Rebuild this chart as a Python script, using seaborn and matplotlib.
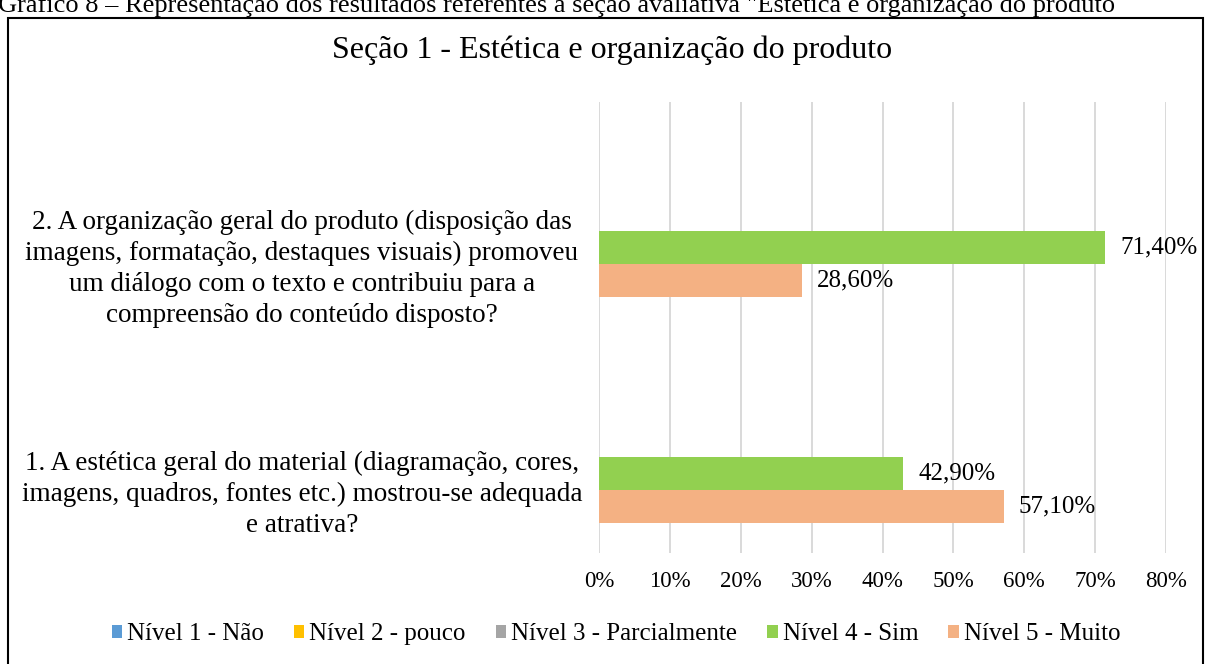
import pandas as pd
import numpy as np
import matplotlib
matplotlib.use('Agg')
import matplotlib.pyplot as plt
from matplotlib.patches import Rectangle
import seaborn as sns

# Data
perguntas = [
    '2. A organização geral do produto (disposição das\n'
    'imagens, formatação, destaques visuais) promoveu\n'
    'um diálogo com o texto e contribuiu para a\n'
    'compreensão do conteúdo disposto?',
    '1. A estética geral do material (diagramação, cores,\n'
    'imagens, quadros, fontes etc.) mostrou-se adequada\n'
    'e atrativa?',
]
niveis = ['Nível 1 - Não', 'Nível 2 - pouco', 'Nível 3 - Parcialmente',
          'Nível 4 - Sim', 'Nível 5 - Muito']
valores_q2 = [0, 0, 0, 71.4, 28.6]
valores_q1 = [0, 0, 0, 42.9, 57.1]
cores = ['#5B9BD5', '#FFC000', '#A5A5A5', '#92D050', '#F4B183']
x_ticks = [0, 10, 20, 30, 40, 50, 60, 70, 80]

titulo = 'Seção 1 - Estética e organização do produto'
legenda_fig = ('Gráfico 8 – Representação dos resultados referentes à seção '
               'avaliativa "Estética e organização do produto')

# Long format table for seaborn
df = pd.DataFrame({
    'pergunta': [perguntas[0]] * 5 + [perguntas[1]] * 5,
    'nivel': niveis + niveis,
    'valor': valores_q2 + valores_q1,
})

sns.set_style('white')
plt.rcParams['font.family'] = ['Liberation Serif', 'DejaVu Serif']
plt.rcParams['text.color'] = 'black'
plt.rcParams['xtick.color'] = 'black'
plt.rcParams['ytick.color'] = 'black'

fig = plt.figure(figsize=(12.05, 6.64), dpi=100)
ax = fig.add_axes([599 / 1205, 1 - 553 / 664, (1166 - 599) / 1205, 451 / 664])

sns.barplot(data=df, x='valor', y='pergunta', hue='nivel', order=perguntas,
            hue_order=niveis, palette=cores, orient='h', width=0.73,
            saturation=1, linewidth=0, errorbar=None, ax=ax)

# data labels (only non-zero bars)
for cont in ax.containers:
    labels = [f'{v:.2f}%'.replace('.', ',') if v > 0 else '' for v in cont.datavalues]
    ax.bar_label(cont, labels=labels, padding=11, fontsize=18, color='black')

ax.set_xlim(0, 80)
ax.set_xticks(x_ticks)
ax.set_xticklabels([f'{t}%' for t in x_ticks], fontsize=16.5)
ax.grid(axis='x', color='#D9D9D9', linewidth=1.4)
ax.grid(axis='y', visible=False)
ax.set_axisbelow(True)
sns.despine(ax=ax, left=True, bottom=True)
ax.set_xlabel('')
ax.set_ylabel('')

# category labels sit a little below the slot center, as in the reference
ax.set_yticks([0.215, 1.215])
ax.set_yticklabels(perguntas, fontsize=19.5, ha='center', linespacing=1.31)
ax.tick_params(axis='y', length=0, pad=214)
ax.tick_params(axis='x', length=0, pad=13)
ax.set_ylim(1.5, -0.5)

sns.move_legend(ax, 'center', bbox_to_anchor=(616 / 1205, 1 - 634 / 664),
                bbox_transform=fig.transFigure, ncol=5, title=None,
                frameon=False, fontsize=18, handlelength=0.42,
                handleheight=0.42, handletextpad=0.2, columnspacing=1.2)

fig.text(0.508, 1 - 50 / 664, titulo, ha='center', va='center', fontsize=23)
fig.text(-0.002, 1 - 12 / 664, legenda_fig, ha='left', va='baseline', fontsize=19)

# outer frame of the chart
fig.patches.append(Rectangle((8 / 1205, -0.02), (1203 - 8) / 1205, 1.02 - 18 / 664,
                             transform=fig.transFigure, fill=False,
                             edgecolor='black', linewidth=1.5))

fig.savefig('out.png', dpi=100)
